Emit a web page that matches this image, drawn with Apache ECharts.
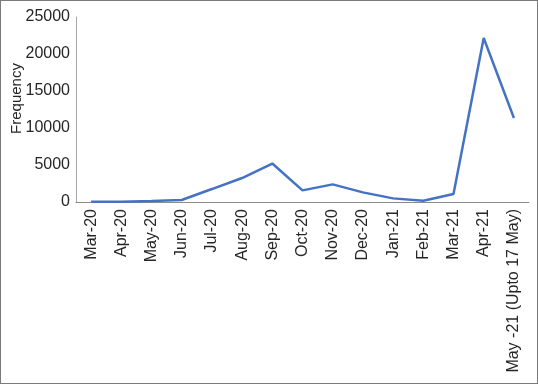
<!DOCTYPE html>
<html>
<head>
<meta charset="utf-8">
<script src="https://cdn.jsdelivr.net/npm/echarts@6/dist/echarts.min.js"></script>
<style>
	html, body { margin: 0; padding: 0; background: #fff; }
	#chart { width: 536px; height: 382px; border: 1px solid #7a7a7a; }
</style>
</head>
<body>
<div id="chart"></div>
<script>
// months on the x axis
var months = ["Mar-20", "Apr-20", "May-20", "Jun-20", "Jul-20", "Aug-20", "Sep-20", "Oct-20",
	"Nov-20", "Dec-20", "Jan-21", "Feb-21", "Mar-21", "Apr-21", "May -21 (Upto 17 May)"];
// frequency
var frequency = [20, 30, 130, 270, 1750, 3240, 5200, 1570, 2380, 1300, 490, 170, 1080, 22160, 11350];

var chart = echarts.init(document.getElementById("chart"));
chart.setOption({
	animation: false,
	grid: { left: 75, right: 8, top: 16, bottom: 181, outerBoundsMode: "none" },
	xAxis: {
		type: "category",
		data: months,
		boundaryGap: true,
		axisLine: { lineStyle: { color: "#8c8c8c", width: 1 } },
		axisTick: { show: false },
		axisLabel: {
			interval: 0,
			rotate: 90,
			color: "#262626",
			fontSize: 16,
			fontFamily: "Liberation Sans",
			margin: 7
		}
	},
	yAxis: {
		type: "value",
		min: 0,
		max: 25000,
		interval: 5000,
		name: "Frequency",
		nameLocation: "middle",
		nameGap: 52,
		nameMoveOverlap: false,
		nameTextStyle: { color: "#262626", fontSize: 15, fontFamily: "Liberation Sans", padding: [0, 0, 0, 22] },
		splitLine: { show: false },
		axisLine: { show: true, lineStyle: { color: "#a6a6a6", width: 1 } },
		axisTick: { show: false },
		axisLabel: {
			color: "#262626", fontSize: 16, fontFamily: "Liberation Sans", margin: 6,
			formatter: function(v){ return String(v); }
		}
	},
	series: [{
		type: "line",
		data: frequency,
		symbol: "none",
		lineStyle: { color: "#4472c4", width: 2.5 }
	}]
});
</script>
</body>
</html>
